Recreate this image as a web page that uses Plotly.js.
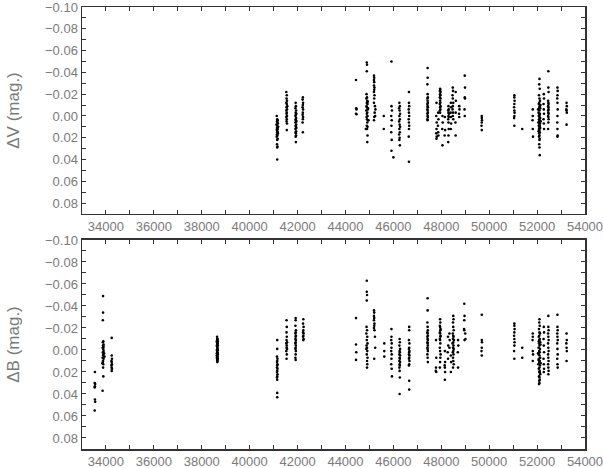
<!DOCTYPE html>
<html>
<head>
<meta charset="utf-8">
<script src="https://cdn.plot.ly/plotly-3.0.1.min.js"></script>
<style>html,body{margin:0;padding:0;background:#fff;}</style>
</head>
<body>
<div id="chart" style="width:603px;height:468px;"></div>
<script>
// ---- Data: top panel (ΔV) ----
const vJD = [
  41130,41150,41170,41140,41160,41180,41120,41150,41190,41140,41170,41130,41160,41150,41180,41140,41160,41130,41170,41150,41140,41160,41150,41150,
  41530,41550,41540,41560,41530,41550,41570,41540,41560,41530,41550,41540,41560,41530,41550,41540,41560,41550,
  41920,41930,41910,41940,41920,41950,41930,41910,41940,41920,41930,41950,41910,41940,41920,41930,41950,41910,41940,41920,41930,41940,41920,41930,
  42220,42210,42230,42220,42210,42230,42220,42210,42230,42220,42210,42220,
  44440,44450,44460,44440,44460,
  44890,44900,44890,44880,44900,44870,44910,44890,44920,44880,44900,44930,44870,44910,44890,44920,44880,44900,44940,44910,44890,44920,44900,44920,44910,44850,44960,44930,44940,
  45190,45200,45190,45200,45190,45210,45200,45190,45210,45200,45190,45230,45250,45220,45240,45200,45190,
  45600,45600,
  45920,45920,45940,45910,45930,45920,45910,45930,45920,46000,
  46250,46270,46240,46260,46280,46250,46270,46240,46260,46280,46250,46270,46240,46260,46250,46270,
  46650,46650,46660,46640,46650,46660,46640,46650,46660,46650,46640,46650,
  47430,47430,47420,47430,47440,47420,47430,47440,47420,47430,47440,47420,47430,47440,47420,47430,47440,47420,47430,
  47950,47960,47940,47970,47950,47960,47940,47970,47950,47960,47940,47970,47950,47960,47940,47950,
  47800,47790,47810,47800,47790,47810,47800,
  47870,47880,47860,47870,47880,
  48050,48060,48040,48050,
  48150,48160,48140,
  48300,48310,48290,48300,48320,48300,48310,48290,48300,48310,48300,48290,
  48480,48490,48470,48480,48500,48480,48470,48490,48480,48500,
  48400,48410,48390,48400,48410,48400,
  48600,48610,48600,48590,48600,
  48750,48760,48740,48750,
  48980,48990,48980,48990,48970,48980,
  49690,49690,49700,49690,49680,49690,
  51050,51050,51060,51050,51040,51050,51060,51050,51040,51050,51380,
  51820,51820,51810,51820,51830,
  52100,52090,52110,52080,52100,52120,52090,52070,52110,52100,52130,52080,52100,52060,52120,52090,52110,52070,52100,52130,52080,52110,52090,52050,52120,52100,52070,52110,52090,52130,52080,52100,52110,52090,52100,52080,52110,52100,52090,52100,52110,
  52040,52150,52060,52140,
  52280,52290,52270,52280,52290,52270,52280,52290,
  52470,52470,52480,52460,52470,52480,52460,52470,52480,52460,52470,52480,52460,52470,52480,52470,52460,
  52850,52860,52850,52840,52850,52860,52850,52840,52850,52860,52850,
  53230,53240,53220,53230,53240,53230
];
const vMag = [
  -0.000,0.003,0.004,0.005,0.006,0.007,0.008,0.009,0.010,0.011,0.012,0.013,0.014,0.015,0.016,0.017,0.018,0.019,0.021,0.022,0.026,0.028,0.029,0.040,
  -0.022,-0.019,-0.016,-0.014,-0.012,-0.011,-0.009,-0.008,-0.006,-0.005,-0.003,-0.002,-0.000,0.001,0.003,0.005,0.007,0.013,
  -0.012,-0.009,-0.007,-0.005,-0.003,-0.002,-0.001,0.000,0.002,0.003,0.004,0.005,0.006,0.008,0.009,0.010,0.011,0.012,0.014,0.015,0.016,0.018,0.019,0.024,
  -0.017,-0.015,-0.012,-0.010,-0.008,-0.006,-0.003,-0.001,0.001,0.003,0.006,0.015,
  -0.033,-0.007,-0.006,-0.002,-0.0015,
  -0.049,-0.047,-0.041,-0.020,-0.017,-0.016,-0.014,-0.012,-0.011,-0.009,-0.008,-0.006,-0.005,-0.003,-0.002,-0.000,0.001,0.003,0.004,0.006,0.009,0.010,0.012,0.018,0.024,0.012,0.004,-0.013,-0.007,
  -0.037,-0.035,-0.033,-0.031,-0.028,-0.026,-0.024,-0.022,-0.019,-0.016,-0.012,-0.009,-0.006,-0.003,-0.000,0.001,0.004,
  -0.000,0.012,
  -0.050,-0.009,-0.005,-0.000,0.004,0.009,0.015,0.022,0.032,0.038,
  -0.012,-0.009,-0.007,-0.005,-0.002,0.000,0.003,0.005,0.008,0.010,0.012,0.015,0.017,0.020,0.022,0.027,
  -0.022,-0.012,-0.009,-0.006,-0.003,-0.000,0.003,0.006,0.009,0.012,0.019,0.042,
  -0.044,-0.035,-0.029,-0.020,-0.017,-0.016,-0.014,-0.012,-0.011,-0.009,-0.008,-0.006,-0.005,-0.003,-0.002,-0.000,0.001,0.003,0.004,
  -0.025,-0.024,-0.023,-0.022,-0.020,-0.019,-0.017,-0.016,-0.014,-0.012,-0.011,-0.009,-0.008,-0.006,-0.005,-0.003,
  -0.012,-0.000,0.006,0.012,0.016,0.019,0.021,
  -0.003,0.003,0.009,0.015,0.018,
  -0.000,0.006,0.012,0.027,
  0.001,0.013,0.018,
  -0.009,-0.006,-0.005,-0.003,-0.002,-0.000,0.001,0.003,0.006,0.012,0.018,0.024,
  -0.026,-0.023,-0.019,-0.016,-0.012,-0.009,-0.006,-0.003,-0.000,0.003,
  -0.012,-0.008,-0.003,0.001,0.007,0.012,
  -0.022,-0.014,-0.003,0.006,0.018,
  -0.009,-0.006,-0.002,0.001,
  -0.037,-0.026,-0.017,-0.016,-0.006,-0.000,
  -0.000,0.002,0.004,0.006,0.009,0.013,
  -0.019,-0.017,-0.014,-0.011,-0.008,-0.005,-0.003,-0.000,0.002,0.009,0.012,
  -0.006,-0.000,0.004,0.012,0.019,
  -0.034,-0.029,-0.025,-0.019,-0.016,-0.014,-0.012,-0.011,-0.009,-0.008,-0.007,-0.006,-0.005,-0.003,-0.002,-0.002,-0.001,0.000,0.001,0.002,0.003,0.004,0.005,0.006,0.007,0.008,0.009,0.009,0.010,0.011,0.012,0.013,0.015,0.016,0.018,0.019,0.021,0.022,0.026,0.029,0.036,
  -0.006,0.005,0.014,-0.010,
  -0.020,-0.016,-0.011,-0.006,-0.002,0.003,0.007,0.012,
  -0.041,-0.026,-0.022,-0.014,-0.012,-0.011,-0.009,-0.008,-0.006,-0.005,-0.003,-0.002,-0.000,0.001,0.003,0.006,0.012,
  -0.026,-0.023,-0.019,-0.016,-0.012,-0.006,-0.000,0.006,0.012,0.018,0.019,
  -0.012,-0.009,-0.006,-0.005,-0.003,0.008
];

// ---- Data: bottom panel (ΔB) ----
const bJD = [
  33540,33530,33550,33540,33530,33540,33550,33530,
  33880,33880,33870,33890,33870,33900,33880,33860,33890,33900,33870,33890,33880,33860,33900,33880,33870,33890,33880,33890,33860,33920,33940,33850,33900,
  34240,34240,34250,34230,34240,34250,34230,34240,34250,34240,
  38640,38660,38650,38630,38670,38640,38660,38650,38630,38670,38640,38660,38650,38630,38670,38640,38660,38650,38630,38670,38640,38660,38650,38630,38670,38640,38660,38650,38640,38660,38650,38630,
  41150,41150,41140,41160,41150,41140,41160,41150,41140,41160,41150,41140,41160,41150,41140,41150,41150,41150,
  41540,41550,41540,41550,41540,41560,41530,41550,41540,41560,41530,41550,41540,
  41920,41920,41910,41930,41920,41910,41930,41920,41910,41930,41920,41910,41930,41920,41910,41930,41920,41910,41920,
  42240,42230,42250,42240,42230,42250,42240,42230,42250,42240,
  44440,44440,44450,44440,
  44890,44890,44900,44890,44880,44900,44870,44910,44890,44920,44880,44900,44870,44910,44890,44920,44900,44910,44900,
  45190,45200,45190,45200,45190,45210,45200,45190,45210,45230,45240,45200,
  45620,45620,45620,
  45920,45920,45910,45930,45920,45910,45930,45920,45910,45930,45940,
  46260,46270,46250,46280,46260,46270,46250,46280,46260,46270,46250,46280,46260,46270,46250,46260,46270,46260,
  46660,46660,46650,46670,46660,46650,46670,46660,46650,46670,46660,46650,46670,46660,46650,46660,46660,
  47430,47430,47420,47430,47440,47420,47430,47440,47420,47430,47440,47420,47430,47440,47420,47430,47440,47420,47430,47440,
  47950,47960,47940,47950,47970,47960,47940,47950,47970,47960,47940,47950,47960,47940,47950,47970,47960,47950,47940,
  47780,47790,47780,47770,47790,
  48150,48160,48140,48150,48160,48150,
  48280,48290,48270,48280,
  48500,48510,48490,48500,48520,48480,48500,48510,48490,48530,48500,48470,48510,48490,48520,48500,48480,48510,48490,48500,48520,48490,
  48400,48410,48400,
  48340,48350,48340,
  48700,48710,48690,48700,
  48960,48970,48960,48950,48960,48970,
  49000,49010,
  49690,49690,49700,49690,49680,49690,
  51050,51050,51060,51050,51040,51050,51060,51050,51040,51050,
  51380,51380,
  51820,51820,51810,51820,51830,51820,
  52100,52090,52110,52080,52100,52120,52090,52070,52110,52100,52130,52080,52100,52060,52120,52090,52110,52070,52100,52130,52080,52110,52090,52050,52120,52100,52070,52110,52090,52130,52080,52100,52110,52090,52100,52080,
  52140,52060,52150,52040,52120,52070,
  52280,52290,52270,52280,52290,52270,52280,52290,52280,
  52470,52470,52480,52460,52470,52480,52460,52470,52480,52460,52470,52480,52460,52470,52480,52470,
  52850,52850,52860,52840,52850,52860,52840,52850,52860,52840,52850,52860,
  53230,53240,53220,53230,53240,53230
];
const bMag = [
  0.020,0.030,0.031,0.033,0.034,0.045,0.047,0.055,
  -0.049,-0.034,-0.027,-0.008,-0.007,-0.005,-0.004,-0.002,-0.001,0.001,0.002,0.004,0.005,0.007,0.008,0.010,0.011,0.013,0.016,0.024,0.037,0.003,0.006,0.012,-0.003,
  -0.011,0.005,0.008,0.010,0.011,0.013,0.014,0.016,0.017,0.019,
  -0.012,-0.010,-0.009,-0.008,-0.008,-0.007,-0.006,-0.005,-0.004,-0.004,-0.003,-0.002,-0.001,-0.000,0.000,0.001,0.002,0.003,0.003,0.004,0.005,0.006,0.007,0.007,0.008,0.009,0.010,0.011,-0.010,0.008,-0.006,0.005,
  -0.009,-0.001,0.006,0.008,0.010,0.011,0.013,0.014,0.016,0.017,0.019,0.020,0.022,0.024,0.025,0.027,0.039,0.043,
  -0.027,-0.021,-0.016,-0.012,-0.009,-0.007,-0.006,-0.004,-0.002,-0.001,0.001,0.004,0.008,
  -0.029,-0.027,-0.022,-0.018,-0.016,-0.015,-0.013,-0.012,-0.010,-0.009,-0.007,-0.006,-0.004,-0.002,-0.001,0.001,0.004,0.007,0.009,
  -0.028,-0.024,-0.021,-0.018,-0.016,-0.015,-0.013,-0.012,-0.010,-0.009,
  -0.029,-0.005,0.002,0.009,
  -0.063,-0.053,-0.050,-0.045,-0.021,-0.018,-0.015,-0.012,-0.009,-0.006,-0.004,-0.002,-0.001,0.001,0.004,0.007,0.010,0.013,0.016,
  -0.036,-0.034,-0.031,-0.029,-0.027,-0.024,-0.022,-0.020,-0.018,-0.012,-0.002,0.008,
  -0.006,0.001,0.006,
  -0.019,-0.012,-0.009,-0.006,-0.002,0.001,0.004,0.008,0.013,0.017,0.024,
  -0.010,-0.007,-0.004,-0.001,0.001,0.002,0.004,0.005,0.007,0.008,0.010,0.011,0.013,0.014,0.016,0.019,0.025,0.040,
  -0.021,-0.018,-0.009,-0.006,-0.002,-0.001,0.001,0.002,0.004,0.005,0.007,0.008,0.010,0.013,0.014,0.028,0.036,
  -0.047,-0.036,-0.025,-0.021,-0.018,-0.016,-0.015,-0.013,-0.012,-0.010,-0.009,-0.007,-0.006,-0.004,-0.002,-0.001,0.001,0.004,0.007,0.011,
  -0.028,-0.025,-0.022,-0.021,-0.019,-0.018,-0.016,-0.015,-0.013,-0.012,-0.010,-0.009,-0.006,-0.002,0.001,0.004,0.007,0.011,0.016,
  -0.009,0.007,0.016,0.019,0.020,
  0.001,0.011,0.014,0.016,0.020,0.027,
  -0.012,-0.004,0.002,0.008,
  -0.031,-0.028,-0.025,-0.021,-0.018,-0.015,-0.013,-0.012,-0.010,-0.009,-0.007,-0.006,-0.004,-0.002,-0.001,0.001,0.002,0.004,0.007,0.010,0.013,0.016,
  0.005,0.011,0.020,
  -0.015,-0.009,-0.002,
  -0.009,-0.004,0.002,0.016,
  -0.042,-0.031,-0.027,-0.019,-0.018,-0.009,
  -0.015,-0.010,
  -0.032,-0.009,-0.007,-0.002,0.001,0.005,
  -0.024,-0.022,-0.019,-0.016,-0.013,-0.010,-0.007,-0.004,0.001,0.008,
  -0.002,0.007,
  -0.015,-0.012,-0.009,0.001,0.004,0.010,
  -0.028,-0.025,-0.022,-0.019,-0.016,-0.015,-0.013,-0.012,-0.010,-0.009,-0.007,-0.006,-0.004,-0.002,-0.001,0.001,0.002,0.004,0.005,0.007,0.008,0.010,0.011,0.013,0.014,0.016,0.017,0.019,0.020,0.022,0.024,0.025,0.027,0.028,0.030,0.031,
  -0.005,0.009,0.012,0.003,0.021,-0.008,
  -0.021,-0.016,-0.010,-0.004,0.002,0.008,0.013,0.017,0.020,
  -0.031,-0.021,-0.018,-0.015,-0.012,-0.009,-0.006,-0.002,0.001,0.004,0.007,0.010,0.013,0.016,0.019,0.022,
  -0.032,-0.021,-0.018,-0.015,-0.012,-0.009,-0.006,-0.001,0.004,0.008,0.013,0.016,
  -0.015,-0.009,-0.006,-0.002,0.001,0.010
];

const yTitleTop = 'ΔV (mag.)';
const yTitleBottom = 'ΔB (mag.)';
const xRange = [33000, 54000];
const yRange = [0.09, -0.10];

const tickFont = {family: 'Liberation Sans, Arial, sans-serif', size: 13, color: '#7a7a7a'};
const titleFont = {family: 'Liberation Sans, Arial, sans-serif', size: 17, color: '#7a7a7a'};
const marker = {color: '#000', size: 2.6, symbol: 'circle'};

function xAxis(anchor) {
  return {
    anchor: anchor, range: xRange, tick0: 34000, dtick: 2000, tickformat: 'd',
    ticks: 'inside', ticklen: 4, tickcolor: '#333', tickwidth: 1,
    minor: {dtick: 1000, ticks: 'inside', ticklen: 4, tickcolor: '#333', showgrid: false},
    showline: true, mirror: 'ticks', linecolor: '#333', linewidth: 1.5,
    showgrid: false, zeroline: false, tickfont: tickFont,
    ticklabeloverflow: 'allow'
  };
}
function yAxis(anchor, domain, title) {
  return {
    anchor: anchor, domain: domain, range: yRange, tick0: -0.10, dtick: 0.02, tickformat: '.2f',
    ticks: 'inside', ticklen: 4, tickcolor: '#333', tickwidth: 1,
    minor: {dtick: 0.01, ticks: 'inside', ticklen: 4, tickcolor: '#333', showgrid: false},
    showline: true, mirror: 'ticks', linecolor: '#333', linewidth: 1.5,
    showgrid: false, zeroline: false, tickfont: tickFont,
    ticklabeloverflow: 'allow',
    title: {text: title, font: titleFont, standoff: 21}
  };
}

const data = [
  {x: vJD, y: vMag, type: 'scatter', mode: 'markers', marker: marker, xaxis: 'x', yaxis: 'y', hoverinfo: 'skip'},
  {x: bJD, y: bMag, type: 'scatter', mode: 'markers', marker: marker, xaxis: 'x2', yaxis: 'y2', hoverinfo: 'skip'}
];

const layout = {
  width: 603, height: 468,
  margin: {l: 82, r: 18, t: 7, b: 19},
  paper_bgcolor: '#fff', plot_bgcolor: '#fff',
  showlegend: false,
  xaxis: xAxis('y'),
  yaxis: yAxis('x', [0.5317, 1], yTitleTop),
  xaxis2: xAxis('y2'),
  yaxis2: yAxis('x2', [0, 0.4729], yTitleBottom)
};

Plotly.newPlot('chart', data, layout, {staticPlot: true, displayModeBar: false});
</script>
</body>
</html>
